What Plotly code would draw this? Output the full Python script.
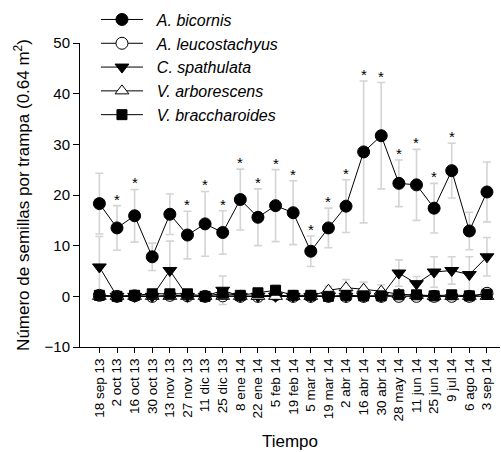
import plotly.graph_objects as go

dates = ["18 sep 13", "2 oct 13", "16 oct 13", "30 oct 13", "13 nov 13", "27 nov 13",
         "11 dic 13", "25 dic 13", "8 ene 14", "22 ene 14", "5 feb 14", "19 feb 14",
         "5 mar 14", "19 mar 14", "2 abr 14", "16 abr 14", "30 abr 14", "28 may 14",
         "11 jun 14", "25 jun 14", "9 jul 14", "6 ago 14", "3 sep 14"]

bicornis = [18.3, 13.5, 15.9, 7.8, 16.2, 12.1, 14.3, 12.6, 19.1, 15.6, 17.9, 16.5,
            8.9, 13.5, 17.8, 28.5, 31.7, 22.3, 22.0, 17.4, 24.8, 12.9, 20.6]
bicornis_err = [6.0, 4.4, 5.2, 2.7, 4.0, 4.7, 6.4, 4.3, 6.0, 5.6, 7.1, 6.3,
                3.0, 3.9, 5.2, 14.0, 10.5, 4.6, 7.0, 4.9, 5.4, 3.7, 5.9]
significant = [0, 1, 1, 0, 0, 1, 1, 1, 1, 1, 1, 1, 1, 1, 1, 1, 1, 1, 1, 1, 1, 0, 0]

leucostachyus = [0.2, 0.0, 0.1, 0.0, 0.2, 0.1, 0.0, 0.1, 0.0, 0.0, 0.3, 0.0,
                 0.0, 0.0, 0.0, 0.0, 0.0, 0.0, 0.0, 0.0, 0.0, 0.0, 0.6]
leucostachyus_err = [0.3, 0.0, 0.2, 0.0, 0.3, 0.2, 0.0, 0.2, 0.0, 0.0, 0.5, 0.0,
                     0.0, 0.0, 0.0, 0.0, 0.0, 0.0, 0.0, 0.0, 0.0, 0.0, 0.6]

spathulata = [5.8, 0.0, 0.0, 0.0, 5.1, 0.0, 0.0, 1.2, 0.0, 0.0, 0.0, 0.0,
              0.0, 0.0, 0.0, 0.0, 0.0, 4.6, 2.5, 4.8, 5.1, 4.3, 7.8]
spathulata_err = [6.0, 0.0, 0.0, 0.0, 5.8, 0.0, 0.0, 2.8, 0.0, 0.0, 0.0, 0.0,
                  0.0, 0.0, 0.0, 0.0, 0.0, 2.6, 1.4, 3.0, 2.7, 3.5, 3.8]

arborescens = [0.0, 0.0, 0.0, 0.0, 0.0, 0.0, 0.0, 0.0, 0.0, 0.0, 0.0, 0.0,
               0.0, 1.2, 1.7, 1.4, 1.0, 0.4, 0.2, 0.0, 0.0, 0.0, 0.0]
arborescens_err = [0.0, 0.0, 0.0, 0.0, 0.0, 0.0, 0.0, 0.0, 0.0, 0.0, 0.0, 0.0,
                   0.0, 0.8, 1.6, 1.4, 1.3, 0.5, 0.3, 0.0, 0.0, 0.0, 0.0]

braccharoides = [0.2, 0.0, 0.2, 0.5, 0.5, 0.5, 0.0, 0.6, 0.2, 0.7, 1.2, 0.2,
                 0.2, 0.0, 0.2, 0.1, 0.1, 0.3, 0.3, 0.1, 0.3, 0.1, 0.4]
braccharoides_err = [0.3, 0.0, 0.3, 0.5, 0.5, 0.5, 0.0, 0.8, 0.3, 0.6, 1.0, 0.3,
                     0.3, 0.0, 0.3, 0.2, 0.2, 0.4, 0.4, 0.2, 0.4, 0.2, 0.5]

y_ticks = [-10, 0, 10, 20, 30, 40, 50]

series = [
    ("A. bicornis", bicornis, bicornis_err, "circle", "black"),
    ("A. leucostachyus", leucostachyus, leucostachyus_err, "circle", "white"),
    ("C. spathulata", spathulata, spathulata_err, "triangle-down", "black"),
    ("V. arborescens", arborescens, arborescens_err, "triangle-up", "white"),
    ("V. braccharoides", braccharoides, braccharoides_err, "square", "black"),
]

FONT = "Liberation Sans, Arial, sans-serif"
fig = go.Figure()

# error bars behind everything
for name, vals, errs, sym, fill in series:
    fig.add_trace(go.Scatter(
        x=dates, y=vals, mode="markers",
        marker=dict(size=1, color="rgba(0,0,0,0)"),
        error_y=dict(type="data", array=errs, visible=True, color="#d4d4d4",
                     thickness=1.6, width=4),
        showlegend=False, hoverinfo="skip"))

for name, vals, errs, sym, fill in series:
    msize = 10 if sym == "square" else 12
    fig.add_trace(go.Scatter(
        x=dates, y=vals, mode="lines+markers", name="&nbsp;&nbsp;<i>" + name + "</i>",
        line=dict(color="black", width=1),
        marker=dict(symbol=sym, size=msize, color=fill,
                    line=dict(color="black", width=1))))

for d, v, e, s in zip(dates, bicornis, bicornis_err, significant):
    if s:
        fig.add_annotation(x=d, y=v + e, text="*", showarrow=False,
                           yanchor="bottom", yshift=-4,
                           font=dict(family=FONT, size=15, color="black"))

fig.update_layout(
    width=501, height=452,
    margin=dict(l=80, r=1, t=43, b=105, autoexpand=False),
    paper_bgcolor="white", plot_bgcolor="white",
    font=dict(family=FONT, color="black"),
    legend=dict(x=0.038, y=1.133, xanchor="left", yanchor="top",
                bgcolor="rgba(0,0,0,0)", font=dict(family=FONT, size=16),
                itemwidth=42, tracegroupgap=0),
    xaxis=dict(type="category", categoryorder="array", categoryarray=dates,
               range=[-1.1, 22.74], showline=True, linecolor="black", linewidth=1,
               ticks="outside", ticklen=5, tickcolor="black", tickangle=-90,
               tickfont=dict(family=FONT, size=13.5), showgrid=False, zeroline=False,
               automargin=False,
               title=dict(text="Tiempo", font=dict(family=FONT, size=17), standoff=14)),
    yaxis=dict(range=[-10, 50], tickvals=y_ticks, showline=True, linecolor="black",
               linewidth=1, ticks="outside", ticklen=6, tickcolor="black",
               tickfont=dict(family=FONT, size=15), showgrid=False, zeroline=False,
               automargin=False,
               title=dict(text="Número de semillas por trampa (0.64 m<sup>2</sup>)",
                          font=dict(family=FONT, size=17), standoff=10)),
)

fig.write_html("out.html", config={"displayModeBar": False},
               post_script="document.body.style.margin='0';")
